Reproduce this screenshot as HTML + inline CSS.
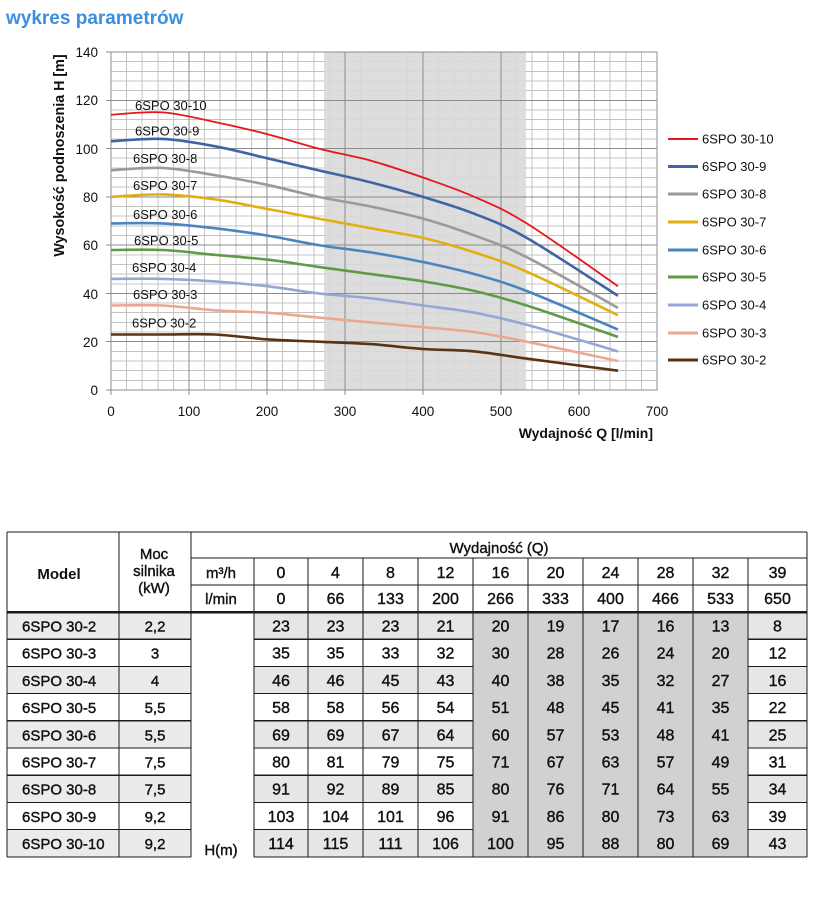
<!DOCTYPE html>
<html><head><meta charset="utf-8"><style>
html,body{margin:0;padding:0;background:#fff;}
svg{display:block;}
text{font-family:"Liberation Sans",Arial,sans-serif;}
</style></head><body>
<svg id="s" width="821" height="911" viewBox="0 0 821 911" xmlns="http://www.w3.org/2000/svg">
<text x="6" y="24" font-size="19" font-weight="bold" fill="#3b8fde">wykres parametrów</text>
<g id="minor" stroke="#c4c4c4" stroke-width="1" shape-rendering="crispEdges"></g>
<rect x="324" y="52" width="202" height="338" fill="#d9d9d9" fill-opacity="0.9"/>
<g id="major" stroke="#8c8c8c" stroke-width="1" shape-rendering="crispEdges"></g>
<rect x="111" y="52" width="546" height="338" fill="none" stroke="#8c8c8c" stroke-width="1" shape-rendering="crispEdges"/>
<g font-size="13.5" fill="#111" text-anchor="end">
<text x="98" y="57">140</text><text x="98" y="105">120</text><text x="98" y="154">100</text><text x="98" y="202">80</text><text x="98" y="250">60</text><text x="98" y="299">40</text><text x="98" y="347">20</text><text x="98" y="395">0</text>
</g>
<g font-size="13.5" fill="#111" text-anchor="middle">
<text x="111" y="416">0</text><text x="189" y="416">100</text><text x="267" y="416">200</text><text x="345" y="416">300</text><text x="423" y="416">400</text><text x="501" y="416">500</text><text x="579" y="416">600</text><text x="657" y="416">700</text>
</g>
<text transform="translate(64,155.5) rotate(-90)" text-anchor="middle" font-size="14.3" font-weight="bold" fill="#111">Wysokość podnoszenia H [m]</text>
<text x="653" y="438" text-anchor="end" font-size="14" font-weight="bold" fill="#111">Wydajność Q [l/min]</text>

<g fill="none" stroke-linejoin="round" stroke-linecap="butt">
<path id="c2" stroke="#5a3312" stroke-width="2.6" d="M111,334.5 L162.5,334.5 214.7,334.5 267,339.3 318.5,341.7 370.7,344.1 423,349 474.5,351.4 526.7,358.6 618,370.7"/>
<path id="c3" stroke="#eaa891" stroke-width="2.6" d="M111,305.5 L162.5,305.5 214.7,310.3 267,312.7 318.5,317.6 370.7,322.4 423,327.2 474.5,332.1 526.7,341.7 618,361"/>
<path id="c4" stroke="#95a7d2" stroke-width="2.6" d="M111,278.9 L162.5,278.9 214.7,281.4 267,286.2 318.5,293.4 370.7,298.3 423,305.5 474.5,312.7 526.7,324.8 618,351.4"/>
<path id="c5" stroke="#609a45" stroke-width="2.6" d="M111,250 L162.5,250 214.7,254.8 267,259.6 318.5,266.9 370.7,274.1 423,281.4 474.5,291 526.7,305.5 618,336.9"/>
<path id="c6" stroke="#4a85bf" stroke-width="2.6" d="M111,223.4 L162.5,223.4 214.7,228.2 267,235.5 318.5,245.1 370.7,252.4 423,262 474.5,274.1 526.7,291 618,329.6"/>
<path id="c7" stroke="#e3ae12" stroke-width="2.6" d="M111,196.9 L162.5,194.4 214.7,199.3 267,208.9 318.5,218.6 370.7,228.2 423,237.9 474.5,252.4 526.7,271.7 618,315.2"/>
<path id="c8" stroke="#9a9a9a" stroke-width="2.6" d="M111,170.3 L162.5,167.9 214.7,175.1 267,184.8 318.5,196.9 370.7,206.5 423,218.6 474.5,235.5 526.7,257.2 618,307.9"/>
<path id="c9" stroke="#4064a4" stroke-width="2.6" d="M111,141.3 L162.5,138.9 214.7,146.2 267,158.2 318.5,170.3 370.7,182.4 423,196.9 474.5,213.8 526.7,237.9 618,295.8"/>
<path id="c10" stroke="#e8161b" stroke-width="1.8" d="M111,114.8 L162.5,112.4 214.7,122 267,134.1 318.5,148.6 370.7,160.6 423,177.5 474.5,196.9 526.7,223.4 618,286.2"/>
</g>

<g font-size="13" fill="#111">
<text x="135" y="110">6SPO 30-10</text>
<text x="135" y="135.5">6SPO 30-9</text>
<text x="133" y="163">6SPO 30-8</text>
<text x="133" y="190">6SPO 30-7</text>
<text x="133" y="219">6SPO 30-6</text>
<text x="134" y="245">6SPO 30-5</text>
<text x="132" y="272">6SPO 30-4</text>
<text x="133" y="299">6SPO 30-3</text>
<text x="132" y="327.5">6SPO 30-2</text>
</g>

<g>
<line x1="668" y1="139" x2="698" y2="139" stroke="#e8161b" stroke-width="2"/>
<line x1="668" y1="166.5" x2="698" y2="166.5" stroke="#4064a4" stroke-width="3"/>
<line x1="668" y1="194" x2="698" y2="194" stroke="#9a9a9a" stroke-width="3"/>
<line x1="668" y1="222" x2="698" y2="222" stroke="#e3ae12" stroke-width="3"/>
<line x1="668" y1="250" x2="698" y2="250" stroke="#4a85bf" stroke-width="3"/>
<line x1="668" y1="277" x2="698" y2="277" stroke="#609a45" stroke-width="3"/>
<line x1="668" y1="305" x2="698" y2="305" stroke="#95a7d2" stroke-width="3"/>
<line x1="668" y1="333" x2="698" y2="333" stroke="#eaa891" stroke-width="3"/>
<line x1="668" y1="360" x2="698" y2="360" stroke="#5a3312" stroke-width="3"/>
</g>
<g font-size="13" fill="#111">
<text x="702" y="143.5">6SPO 30-10</text>
<text x="702" y="171">6SPO 30-9</text>
<text x="702" y="198.5">6SPO 30-8</text>
<text x="702" y="226.5">6SPO 30-7</text>
<text x="702" y="254.5">6SPO 30-6</text>
<text x="702" y="281.5">6SPO 30-5</text>
<text x="702" y="309.5">6SPO 30-4</text>
<text x="702" y="337.5">6SPO 30-3</text>
<text x="702" y="364.5">6SPO 30-2</text>
</g>

<!-- TABLE -->
<g id="tbg" shape-rendering="crispEdges"></g>
<g id="tlines" stroke="#1a1a1a" stroke-width="1.2" shape-rendering="crispEdges"></g>
<g font-size="15" fill="#111" stroke="#111" stroke-width="0.4" text-anchor="middle">
<text x="59" y="579" font-weight="bold" stroke-width="0">Model</text>
<text x="154" y="559">Moc</text>
<text x="154" y="576">silnika</text>
<text x="154" y="593">(kW)</text>
<text x="499" y="553">Wydajność (Q)</text>
<text x="221" y="578">m³/h</text>
<text x="221" y="604">l/min</text>
<text x="221" y="855">H(m)</text>
</g>
<g id="tvals" font-size="16" fill="#111" stroke="#111" stroke-width="0.4" text-anchor="middle"></g>
<g id="tmods" font-size="15" fill="#111" stroke="#111" stroke-width="0.4"></g>
</svg>
<script>
(function(){
var NS="http://www.w3.org/2000/svg";
function el(p,t,a,txt){var e=document.createElementNS(NS,t);for(var k in a)e.setAttribute(k,a[k]);if(txt!==undefined)e.textContent=txt;p.appendChild(e);return e;}
var minor=document.getElementById('minor'),major=document.getElementById('major');
for(var k=1;k<35;k++){var x=111+15.6*k;if(k%5)el(minor,'line',{x1:x,y1:52,x2:x,y2:390});}
for(var k=1;k<35;k++){var y=390-338/35*k;if(k%5)el(minor,'line',{x1:111,y1:y,x2:657,y2:y});}
for(var k=1;k<7;k++){var x=111+78*k;el(major,'line',{x1:x,y1:52,x2:x,y2:395});}
el(major,'line',{x1:111,y1:390,x2:111,y2:395});
for(var k=0;k<=7;k++){var y=390-338/7*k;el(major,'line',{x1:106,y1:y,x2:657,y2:y});}
var Q=[0,66,133,200,266,333,400,466,533,650];
var D={c2:[23,23,23,21,20,19,17,16,13,8],c3:[35,35,33,32,30,28,26,24,20,12],c4:[46,46,45,43,40,38,35,32,27,16],c5:[58,58,56,54,51,48,45,41,35,22],c6:[69,69,67,64,60,57,53,48,41,25],c7:[80,81,79,75,71,67,63,57,49,31],c8:[91,92,89,85,80,76,71,64,55,34],c9:[103,104,101,96,91,86,80,73,63,39],c10:[114,115,111,106,100,95,88,80,69,43]};
for(var id in D){var H=D[id];var p=Q.map(function(q,i){return [111+q*0.78,390-H[i]*338/140];});
var n=p.length,d='M'+p[0][0].toFixed(1)+','+p[0][1].toFixed(1);
for(var i=0;i<n-1;i++){var p0=p[Math.max(i-1,0)],p1=p[i],p2=p[i+1],p3=p[Math.min(i+2,n-1)];
var c1=[p1[0]+(p2[0]-p0[0])/6,p1[1]+(p2[1]-p0[1])/6],c2=[p2[0]-(p3[0]-p1[0])/6,p2[1]-(p3[1]-p1[1])/6];
d+=' C'+c1[0].toFixed(1)+','+c1[1].toFixed(1)+' '+c2[0].toFixed(1)+','+c2[1].toFixed(1)+' '+p2[0].toFixed(1)+','+p2[1].toFixed(1);}
document.getElementById(id).setAttribute('d',d);}
var bg=document.getElementById('tbg'),ln=document.getElementById('tlines'),tv=document.getElementById('tvals'),tm=document.getElementById('tmods');
var cols=[254,308,363,418,473,528,583,638,693,748,807];
var rows=[];for(var i=0;i<=9;i++)rows.push(612+27.2*i);
var models=['6SPO 30-2','6SPO 30-3','6SPO 30-4','6SPO 30-5','6SPO 30-6','6SPO 30-7','6SPO 30-8','6SPO 30-9','6SPO 30-10'];
var moc=['2,2','3','4','5,5','5,5','7,5','7,5','9,2','9,2'];
var vals=[D.c2,D.c3,D.c4,D.c5,D.c6,D.c7,D.c8,D.c9,D.c10];
for(var r=0;r<9;r++){var y0=rows[r],h=rows[r+1]-rows[r];
 if(r%2==0){el(bg,'rect',{x:7,y:y0,width:184,height:h,fill:'#ebebeb'});
  el(bg,'rect',{x:254,y:y0,width:219,height:h,fill:'#e6e6e6'});
  el(bg,'rect',{x:748,y:y0,width:59,height:h,fill:'#e6e6e6'});}
}
el(bg,'rect',{x:473,y:612,width:275,height:245,fill:'#d1d1d1'});
var m3=[0,4,8,12,16,20,24,28,32,39],lm=[0,66,133,200,266,333,400,466,533,650];
for(var c=0;c<10;c++){var cx=(cols[c]+cols[c+1])/2;
 el(tv,'text',{x:cx,y:578},String(m3[c]));el(tv,'text',{x:cx,y:604},String(lm[c]));
 for(var r=0;r<9;r++){el(tv,'text',{x:cx,y:rows[r]+19.5},String(vals[r][c]));}}
for(var r=0;r<9;r++){el(tm,'text',{x:22,y:rows[r]+19.5},models[r]);el(tm,'text',{x:155,y:rows[r]+19.5,'text-anchor':'middle'},moc[r]);}
function L(x1,y1,x2,y2,w){var a={x1:x1,y1:y1,x2:x2,y2:y2};if(w)a['stroke-width']=w;el(ln,'line',a);}
L(7,532,807,532);L(7,532,7,857);L(119,532,119,857);L(191,532,191,857);L(807,532,807,857);
L(191,558,807,558);L(191,585,807,585);
for(var c=0;c<10;c++)L(cols[c],558,cols[c],857);
L(7,612,807,612,2.5);
for(var r=1;r<9;r++){L(7,rows[r],191,rows[r]);L(254,rows[r],473,rows[r]);L(748,rows[r],807,rows[r]);}
L(7,857,191,857);L(254,857,807,857);
})();
</script>
</body></html>
